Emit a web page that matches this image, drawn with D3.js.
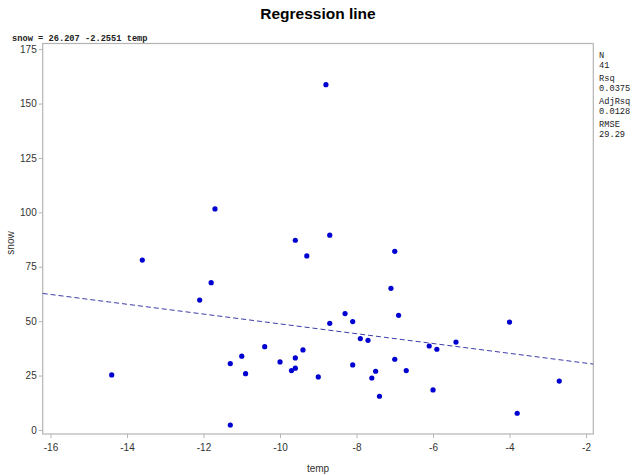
<!DOCTYPE html>
<html>
<head>
<meta charset="utf-8">
<script src="https://cdn.jsdelivr.net/npm/d3@7"></script>
<style>
  html, body { margin: 0; padding: 0; background: #fff; }
  svg { display: block; }
</style>
</head>
<body>
<svg id="chart" width="635" height="475"></svg>
<script>
const temp = [-14.4, -13.6, -12.1, -11.8, -11.7, -11.3, -11.3, -11.0, -10.9, -10.4,
  -10.0, -9.7, -9.6, -9.6, -9.6, -9.4, -9.3, -9.0, -8.8, -8.7,
  -8.7, -8.3, -8.1, -8.1, -7.9, -7.7, -7.6, -7.5, -7.4, -7.1,
  -7.0, -7.0, -6.9, -6.7, -6.1, -6.0, -5.9, -5.4, -4.0, -3.8, -2.7];
const snow = [25.3, 78.1, 59.7, 67.7, 101.6, 30.5, 2.3, 33.9, 25.9, 38.3,
  31.3, 27.3, 33.1, 28.4, 87.2, 36.8, 80.0, 24.4, 158.7, 89.5,
  49.0, 53.5, 49.8, 29.9, 42.0, 41.2, 23.9, 27.0, 15.5, 65.1,
  32.5, 82.1, 52.7, 27.3, 38.6, 18.4, 37.1, 40.4, 49.6, 7.7, 22.5];
const xTicks = [-16, -14, -12, -10, -8, -6, -4, -2];
const yTicks = [0, 25, 50, 75, 100, 125, 150, 175];
const intercept = 26.207;
const slope = -2.2551;
const equationText = "snow = 26.207 -2.2551 temp";
const statLabels = ["N", "Rsq", "AdjRsq", "RMSE"];
const statValues = ["41", "0.0375", "0.0128", "29.29"];
const titleText = "Regression line";
const xLabel = "temp";
const yLabel = "snow";

const svg = d3.select("#chart");
const L = 42.7, R = 593.3, T = 43.5, B = 434;

const x = d3.scaleLinear().domain([-16.204, -1.81]).range([L, R]);
const y = d3.scaleLinear().domain([-1.84, 177.6]).range([B, T]);

// title
svg.append("text")
  .attr("x", 318).attr("y", 19)
  .attr("text-anchor", "middle")
  .style("font-family", "Arial, 'Liberation Sans', sans-serif")
  .style("font-weight", "bold")
  .style("font-size", "15.5px")
  .attr("fill", "#000")
  .text(titleText);

// equation
svg.append("text")
  .attr("x", 12).attr("y", 41)
  .style("font-family", "'Liberation Mono', 'Courier New', monospace")
  .style("font-size", "8.7px")
  .style("font-weight", "bold")
  .attr("fill", "#222")
  .text(equationText);

// stats
const statY = [[58, 68], [81, 91], [104, 114], [127, 137]];
statLabels.forEach((lab, i) => {
  const g = svg.append("g")
    .style("font-family", "'Liberation Mono', 'Courier New', monospace")
    .style("font-size", "8.7px")
    .attr("fill", "#222");
  g.append("text").attr("x", 599).attr("y", statY[i][0]).text(lab);
  g.append("text").attr("x", 599).attr("y", statY[i][1]).text(statValues[i]);
});

// frame
svg.append("rect")
  .attr("x", L).attr("y", T)
  .attr("width", R - L).attr("height", B - T)
  .attr("fill", "none")
  .attr("stroke", "#b4b4b4")
  .attr("stroke-width", 1.2);

// x axis
const xAxis = svg.append("g")
  .attr("transform", `translate(0,${B})`)
  .call(d3.axisBottom(x).tickValues(xTicks).tickSize(4).tickPadding(6).tickFormat(d3.format("d")));
xAxis.select(".domain").remove();
xAxis.selectAll("line").attr("stroke", "#b4b4b4");
xAxis.selectAll("text")
  .style("font-family", "Arial, 'Liberation Sans', sans-serif")
  .style("font-size", "10px")
  .attr("fill", "#333")
  .text(d => d < 0 ? "-" + Math.abs(d) : d);

// y axis
const yAxis = svg.append("g")
  .attr("transform", `translate(${L},0)`)
  .call(d3.axisLeft(y).tickValues(yTicks).tickSize(4).tickPadding(2));
yAxis.select(".domain").remove();
yAxis.selectAll("line").attr("stroke", "#b4b4b4");
yAxis.selectAll("text")
  .style("font-family", "Arial, 'Liberation Sans', sans-serif")
  .style("font-size", "10px")
  .attr("fill", "#333");

// axis labels
svg.append("text")
  .attr("x", 318).attr("y", 472)
  .attr("text-anchor", "middle")
  .style("font-family", "Arial, 'Liberation Sans', sans-serif")
  .style("font-size", "10px")
  .attr("fill", "#333")
  .text(xLabel);
svg.append("text")
  .attr("transform", "translate(14,243) rotate(-90)")
  .attr("text-anchor", "middle")
  .style("font-family", "Arial, 'Liberation Sans', sans-serif")
  .style("font-size", "10px")
  .attr("fill", "#333")
  .text(yLabel);

// regression line
const xd = x.domain();
svg.append("line")
  .attr("x1", x(xd[0])).attr("y1", y(intercept + slope * xd[0]))
  .attr("x2", x(xd[1])).attr("y2", y(intercept + slope * xd[1]))
  .attr("stroke", "#3c3ca8")
  .attr("stroke-width", 1)
  .attr("stroke-dasharray", "5,3");

// points
svg.append("g").selectAll("circle")
  .data(temp.map((t, i) => [t, snow[i]]))
  .join("circle")
  .attr("cx", d => x(d[0]))
  .attr("cy", d => y(d[1]))
  .attr("r", 2.6)
  .attr("fill", "#0000d0");
</script>
</body>
</html>
